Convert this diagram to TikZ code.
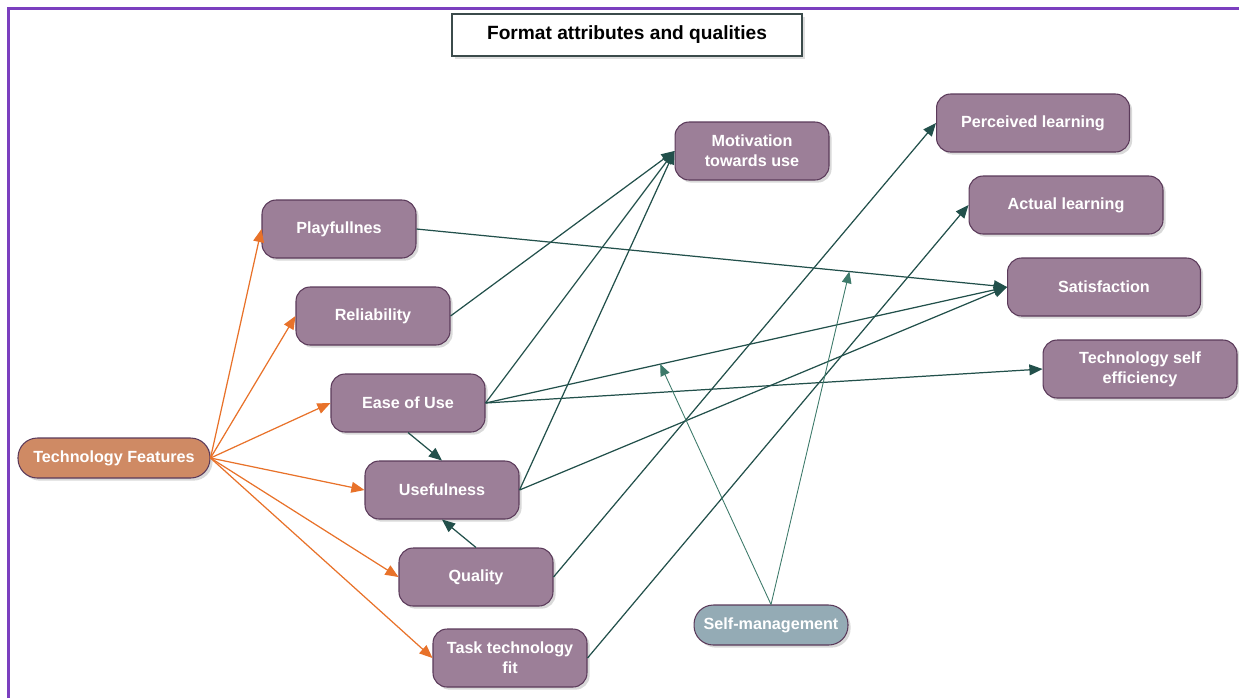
\documentclass[tikz,border=0pt]{standalone}
\usepackage{fontspec}
\setmainfont{Liberation Sans}
\usetikzlibrary{arrows,shadows}
\definecolor{boxfill}{HTML}{9C7F98}
\definecolor{boxline}{HTML}{5B3A5A}
\definecolor{featfill}{HTML}{CF8A64}
\definecolor{smfill}{HTML}{94ABB5}
\definecolor{orangeline}{HTML}{E8722A}
\definecolor{linkline}{HTML}{22504B}
\definecolor{modline}{HTML}{3D7A6A}
\definecolor{framecol}{HTML}{7B3FBF}
\definecolor{titleline}{HTML}{3B4B4B}
\tikzset{
    box/.style={draw=boxline, line width=0.6pt, fill=boxfill, rounded corners=8pt,
        minimum width=3.08cm, minimum height=1.16cm, text=white, align=center,
        font=\fontsize{9.2}{11.4}\selectfont\bfseries,
        drop shadow={opacity=0.3, shadow xshift=1.5pt, shadow yshift=-1.5pt}},
    pill/.style={box, rounded corners=11pt, minimum height=0.8cm},
    titlebox/.style={draw=titleline, line width=0.8pt, fill=white,
        minimum width=7cm, minimum height=0.84cm,
        font=\fontsize{10.9}{13}\selectfont\bfseries,
        drop shadow={opacity=0.25, shadow xshift=1.5pt, shadow yshift=-1.5pt}},
    feat/.style={draw=orangeline, line width=0.7pt, -triangle 45},
    link/.style={draw=linkline, line width=0.7pt, -triangle 45},
    modlink/.style={draw=modline, line width=0.5pt, -triangle 45},
    frame/.style={draw=framecol, line width=1.3pt}
}
\begin{document}
\begin{tikzpicture}[x=0.02cm, y=-0.02cm]
    \useasboundingbox (0,0) rectangle (1239,698);
    \draw[frame] (8.5,698) -- (8.5,8.5) -- (1239,8.5);
    \node[titlebox] (title) at (627,35) {Format attributes and qualities};
    % left column
    \node[pill, fill=featfill, minimum width=3.84cm] (tf) at (114,458) {Technology Features};
    \node[box] (play) at (339,229) {Playfullnes};
    \node[box] (rel) at (373,316) {Reliability};
    \node[box] (ease) at (408,403) {Ease of Use};
    \node[box] (use) at (442,490) {Usefulness};
    \node[box] (qual) at (476,577) {Quality};
    \node[box] (task) at (510,658) {Task technology\\fit};
    % right column
    \node[box] (mot) at (752,151) {Motivation\\towards use};
    \node[box, minimum width=3.86cm] (perc) at (1033,123) {Perceived learning};
    \node[box, minimum width=3.88cm] (act) at (1066,205) {Actual learning};
    \node[box, minimum width=3.86cm] (sat) at (1104,287) {Satisfaction};
    \node[box, minimum width=3.88cm] (tse) at (1140,369) {Technology self\\efficiency};
    \node[pill, fill=smfill] (sm) at (771,625) {Self-management};
    % features
    \foreach \n in {play,rel,ease,use,qual,task}
        \draw[feat] (tf.east) -- (\n.west);
    % paths
    \foreach \n in {rel,ease,use}
        \draw[link] (\n.east) -- (mot.west);
    \draw[link] (play.east) -- coordinate[pos=0.733] (m2) (sat.west);
    \draw[link] (ease.east) -- coordinate[pos=0.335] (m1) (sat.west);
    \draw[link] (ease.east) -- (tse.west);
    \draw[link] (use.east) -- (sat.west);
    \draw[link] (qual.east) -- (perc.west);
    \draw[link] (task.east) -- (act.west);
    \draw[link] (ease.south) -- (use.north);
    \draw[link] (qual.north) -- (use.south);
    % moderation
    \draw[modlink] (sm.north) -- (m1);
    \draw[modlink] (sm.north) -- (m2);
\end{tikzpicture}
\end{document}
